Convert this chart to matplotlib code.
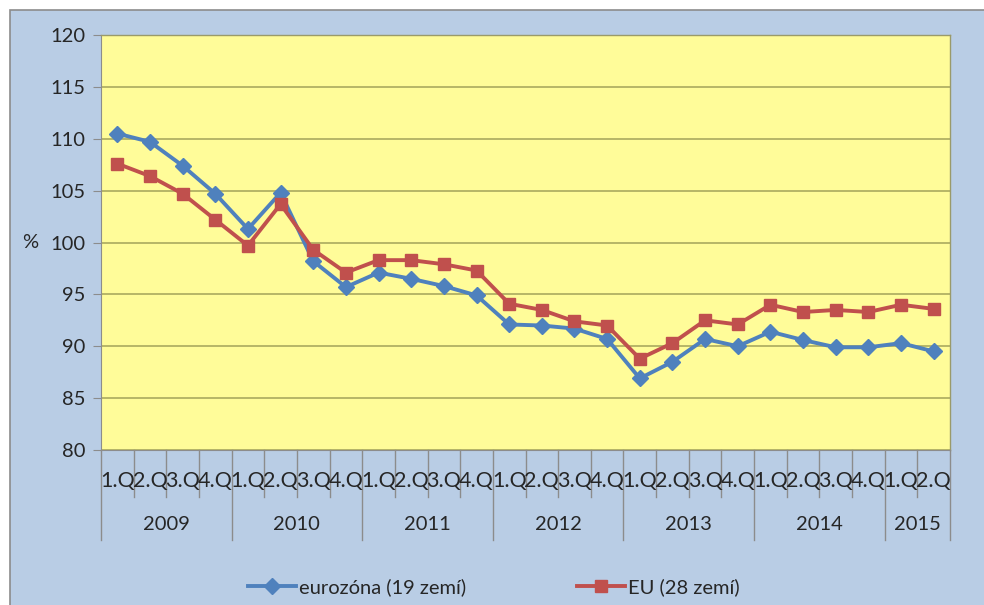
import matplotlib
matplotlib.use("Agg")
import matplotlib.pyplot as plt
from matplotlib.patches import Rectangle
import matplotlib.transforms as mtransforms

plt.rcParams['font.family'] = ['Lato', 'DejaVu Sans']

years = ["2009", "2010", "2011", "2012", "2013", "2014", "2015"]
quarters_per_year = [4, 4, 4, 4, 4, 4, 2]
quarter_names = ["1.Q", "2.Q", "3.Q", "4.Q"]

eurozone = [110.5, 109.7, 107.4, 104.7, 101.3, 104.8, 98.2, 95.7,
            97.1, 96.5, 95.8, 94.9, 92.1, 92.0, 91.7, 90.7,
            86.9, 88.5, 90.7, 90.0, 91.4, 90.6, 89.9, 89.9,
            90.3, 89.5]
eu28 = [107.6, 106.4, 104.7, 102.2, 99.7, 103.7, 99.3, 97.1,
        98.3, 98.3, 97.9, 97.3, 94.1, 93.5, 92.4, 92.0,
        88.8, 90.3, 92.5, 92.1, 94.0, 93.3, 93.5, 93.3,
        94.0, 93.6]
series_labels = ["eurozóna (19 zemí)", "EU (28 zemí)"]
y_ticks = [80, 85, 90, 95, 100, 105, 110, 115, 120]

W, H = 984, 605
fig = plt.figure(figsize=(W / 100, H / 100), dpi=100, facecolor="white")

# chart area background
fig.patches.append(Rectangle((10 / W, -0.01), 1.0, 1 - 10 / H + 0.01,
                             transform=fig.transFigure, facecolor="#B9CDE5",
                             edgecolor="#8C8C8C", linewidth=1.2, zorder=-10))

left, right, top, bottom = 101, 950, 35, 450
ax = fig.add_axes([left / W, 1 - bottom / H, (right - left) / W, (bottom - top) / H])
ax.set_zorder(1)
ax.set_facecolor("#FFFC99")

n = len(eurozone)
x = [i + 0.5 for i in range(n)]
ax.set_xlim(0, n)
ax.set_ylim(80, 120)

ax.set_yticks(y_ticks)
ax.set_yticklabels([str(v) for v in y_ticks], fontsize=14.5, color="#262626")
ax.tick_params(axis="y", length=6, color="#8C8C8C", pad=5)
ax.yaxis.grid(True, color="#A3A35A", linewidth=1.1)
ax.set_axisbelow(True)

for s in ["top", "right"]:
    ax.spines[s].set_color("#9A9A6A")
    ax.spines[s].set_linewidth(1.0)
ax.spines["left"].set_color("#8C8C8C")
ax.spines["bottom"].set_color("#8C8C8C")

ax.plot(x, eurozone, color="#4F81BD", linewidth=2.8, marker="D", markersize=8.5,
        label=series_labels[0], zorder=3)
ax.plot(x, eu28, color="#C0504D", linewidth=2.8, marker="s", markersize=8.5,
        label=series_labels[1], zorder=3)

# two-level category axis
ax.set_xticks([])
trans = mtransforms.blended_transform_factory(ax.transData, ax.transAxes)
ax_h = bottom - top
q_drop = 47 / ax_h
y_drop = 90 / ax_h

pos = 0
for yr, nq in zip(years, quarters_per_year):
    ax.plot([pos, pos], [0, -y_drop], transform=trans, color="#8C8C8C",
            linewidth=1.0, clip_on=False)
    for q in range(nq):
        if q > 0:
            ax.plot([pos + q, pos + q], [0, -q_drop], transform=trans,
                    color="#8C8C8C", linewidth=1.0, clip_on=False)
        ax.text(pos + q + 0.5, -31 / ax_h, quarter_names[q], transform=trans,
                ha="center", va="center", fontsize=15.5, color="#262626")
    ax.text(pos + nq / 2, -75 / ax_h, yr, transform=trans, ha="center",
            va="center", fontsize=14.5, color="#262626")
    pos += nq
ax.plot([pos, pos], [0, -y_drop], transform=trans, color="#8C8C8C",
        linewidth=1.0, clip_on=False)

fig.text(30 / W, 1 - 243 / H, "%", ha="center", va="center", fontsize=14.5,
         color="#262626")

fig.legend(loc="center", bbox_to_anchor=(494 / W, 1 - 587 / H), ncol=2,
           frameon=False, fontsize=14.5, handlelength=2.4, handletextpad=0.15,
           columnspacing=5.5, labelcolor="#262626")

fig.savefig("out.png", dpi=100, facecolor="white")
